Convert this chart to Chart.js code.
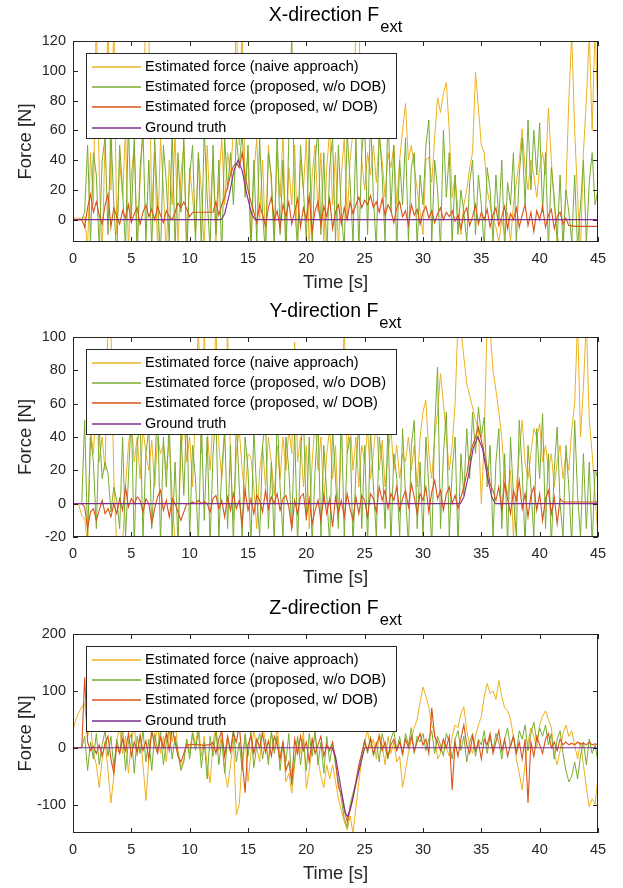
<!DOCTYPE html>
<html>
<head>
<meta charset="utf-8">
<title>External force estimation</title>
<script src="https://cdn.jsdelivr.net/npm/chart.js@4.4.1/dist/chart.umd.min.js"></script>
<style>
  html, body { margin: 0; padding: 0; background: #fff; }
  .panel { position: absolute; left: 0; width: 623px; height: 296px; }
  .panel canvas { display: block; }
</style>
</head>
<body>
<div class="panel" style="top:0px"><canvas id="chart-x" width="623" height="296"></canvas></div>
<div class="panel" style="top:296px"><canvas id="chart-y" width="623" height="296"></canvas></div>
<div class="panel" style="top:592px"><canvas id="chart-z" width="623" height="296"></canvas></div>
<script>
// Samples of the estimated forces are read every 0.25 s from 0 to 45 s
var SAMPLE_STEP = 0.25;
var X_TICKS = [0, 5, 10, 15, 20, 25, 30, 35, 40, 45];
var SERIES_NAMES = [
  'Estimated force (naive approach)',
  'Estimated force (proposed, w/o DOB)',
  'Estimated force (proposed, w/ DOB)',
  'Ground truth'
];

// ---- X direction ----
var X_NAIVE = [
  1,1,1,1,2,-20,45,10,140,30,-25,55,135,20,140,-10,40,15,60,-20,
  30,50,-15,25,60,145,130,5,45,-20,55,20,-25,40,10,58,-15,30,50,-20,
  35,15,-10,45,20,-20,50,5,40,-15,25,55,10,45,30,60,140,50,135,20,
  45,-20,30,55,0,40,-15,50,25,-10,45,15,58,-20,35,10,50,-15,40,20,
  55,-20,30,50,5,45,-15,35,60,10,45,-20,30,55,0,40,60,130,140,40,
  20,45,30,50,25,55,40,15,45,35,50,10,40,60,78,40,50,35,20,5,
  -10,40,42,25,55,82,72,85,92,60,15,30,5,-10,10,20,35,45,99,75,
  50,45,20,10,0,-5,-15,0,-10,5,-15,10,25,40,61,35,20,40,30,15,
  35,45,30,75,40,10,-10,-20,-15,20,80,125,60,15,-20,45,80,125,60,130,
  70
];
var X_NO_DOB = [
  0,0,0,0,5,50,-15,45,30,-20,40,55,-10,60,10,-25,50,20,-20,65,
  0,55,-25,35,60,-15,40,-20,55,10,-25,50,25,-15,60,-20,45,5,55,-25,
  30,50,-15,45,-20,60,15,-20,50,-10,40,-25,55,20,45,10,55,35,60,15,
  50,-20,40,-15,55,5,-25,45,30,-20,60,-10,40,-25,55,125,10,-20,50,20,
  -15,55,-20,40,60,-10,45,-25,35,55,-15,50,5,-20,60,25,-15,55,-20,45,
  65,-10,70,15,-20,60,30,-15,75,5,50,-20,40,10,55,-15,35,45,-20,30,
  10,50,67,-15,40,20,-20,60,15,45,-15,30,-10,20,5,-15,25,40,-10,30,
  10,-20,35,20,-15,30,0,40,-20,25,10,45,-15,30,55,10,67,20,60,30,
  65,5,45,-20,35,15,-15,30,-20,20,5,-15,30,-20,10,40,-15,25,45,10,
  20
];
var X_DOB = [
  0,0,0,0,-5,8,17,5,12,3,-3,10,17,-5,8,2,-3,6,1,10,
  -2,4,8,-3,5,10,2,7,0,9,3,-2,6,2,0,5,11,8,12,7,
  2,5,5,5,5,5,5,5,5,12,3,10,15,22,30,36,38,35,45,30,
  20,12,5,-2,10,3,-4,8,15,0,6,-6,10,2,12,-3,5,14,-5,8,
  0,16,-8,6,12,-4,9,2,14,-6,5,10,-3,8,0,12,4,10,15,8,
  13,10,16,8,12,5,14,3,10,6,-2,8,12,2,6,-4,10,3,7,-3,
  5,9,1,6,-2,4,8,0,5,2,6,-1,3,-6,4,8,-4,2,10,-3,
  5,0,7,-5,3,8,-4,2,9,-6,4,0,8,-5,3,10,-4,5,-8,6,
  0,9,-5,3,7,-6,2,5,-3,1,-4,-4,-4.5,-4.5,-4.5,-4.5,-4.5,-4.5,-4.5,-4.5,
  -4.5
];
var X_TRUTH_T = [0, 12.7, 13.0, 13.4, 13.8, 14.15, 14.5, 14.9, 15.3, 15.6, 45];
var X_TRUTH = [0, 0, 4, 17, 33, 40, 33, 17, 4, 0, 0];

// ---- Y direction ----
var Y_NAIVE = [
  0,0,-1,-7,-9,-25,45,30,60,25,40,20,110,105,15,-25,-20,-25,10,35,
  50,25,40,15,45,30,20,38,10,40,30,35,20,38,5,-25,-20,30,50,25,
  40,10,60,110,30,105,45,20,50,110,35,15,40,105,25,-10,30,45,20,5,
  30,28,10,-15,20,35,10,40,25,5,35,15,40,20,45,30,97,25,40,10,
  35,-15,25,50,20,40,0,30,45,15,35,-10,40,110,30,50,20,40,10,35,
  25,45,15,30,50,20,38,10,30,45,20,35,15,30,25,40,20,35,10,40,
  55,62,30,15,40,55,78,60,40,20,35,60,110,105,88,72,65,58,50,45,
  0,40,110,105,80,68,55,40,15,5,20,-20,10,30,50,25,15,30,45,40,
  48,25,35,20,30,10,25,35,15,30,20,45,60,110,40,70,110,50,30,5,
  -20
];
var Y_NO_DOB = [
  0,0,0,0,50,-20,40,25,-15,45,15,25,18,-5,10,2,-15,40,-20,15,
  55,-25,35,50,-20,30,45,-15,20,60,-25,40,10,50,-20,25,-25,45,5,55,
  -20,35,15,-25,50,-10,40,-25,30,55,-20,20,45,-15,35,-25,50,10,-20,40,
  20,-25,45,5,-20,35,50,-15,25,-25,55,10,-20,40,20,-15,45,-25,30,55,
  -10,40,-25,20,50,-20,35,5,-25,45,15,-15,55,-20,30,40,-25,20,50,-15,
  35,-25,45,10,-20,40,25,-15,50,-25,30,15,-20,45,5,-25,35,50,-15,25,
  -20,40,10,-25,45,82,-15,30,55,-20,20,40,-25,30,5,45,15,55,30,58,
  40,52,10,35,-20,25,45,-15,30,-25,40,5,-20,50,20,-25,35,10,-20,45,
  15,54,-15,30,-25,20,46,0,-20,35,10,-25,50,5,-20,30,-15,25,-25,20,
  15
];
var Y_DOB = [
  0,0,0,0,-2,-15,-5,-3,-10,-4,2,-6,-3,-8,0,-6,3,-4,10,-2,
  3,0,4,2,-5,3,0,-12,-3,4,8,-4,2,-8,3,0,-5,-10,-5,0,
  0,1,0,2,0,1,0,-5,3,5,-3,2,-8,4,-4,6,-3,2,-12,8,
  -4,3,-6,5,2,-5,8,-3,4,0,6,-4,3,5,-2,-15,2,-6,4,6,
  -8,3,-12,-4,2,-10,5,-6,3,-14,4,-5,2,-8,6,-3,-10,4,-6,5,
  2,-8,6,3,-5,10,2,8,-3,6,2,10,-4,3,8,-2,12,4,-6,6,
  2,10,-5,7,14,3,8,-4,6,10,0,5,-3,4,10,18,28,35,40,46,
  38,30,22,12,8,2,10,-4,12,3,-6,8,2,14,-3,6,-8,5,10,-4,
  6,-10,3,8,-6,4,-12,3,1,1,1,1,1,1,1,1,1,1,1,1,
  1
];
var Y_TRUTH_T = [0, 33.2, 33.5, 33.9, 34.3, 34.7, 35.1, 35.5, 35.9, 36.2, 45];
var Y_TRUTH = [0, 0, 4, 17, 33, 40, 33, 17, 4, 0, 0];

// ---- Z direction ----
var Z_NAIVE = [
  31,50,62,72,78,20,40,-10,-30,-70,-20,10,-40,-97,-50,15,35,-10,20,-45,
  10,40,-15,25,-30,-93,-20,30,5,40,-10,20,-25,35,10,45,-5,-35,-20,15,
  -10,30,5,40,-15,20,-30,-62,10,35,-5,25,-40,-70,-30,15,-118,-100,-20,20,
  -60,-10,30,0,-25,40,10,-20,25,-5,35,-15,10,-60,-45,-80,-30,15,-10,30,
  -72,-40,0,25,-20,-50,-70,-30,-55,-30,-60,-90,-110,-130,-145,-120,-150,-105,-60,-20,
  10,30,0,15,-20,25,5,-30,20,-10,10,-25,-15,-70,-40,-10,15,35,50,80,
  107,90,72,40,25,-20,-10,10,0,-15,20,40,35,60,72,30,5,-10,20,40,
  55,90,113,95,100,85,118,90,70,65,50,20,-20,-45,-74,-30,10,35,20,0,
  40,55,65,50,35,-10,-30,-5,25,40,20,30,5,-20,10,-30,-70,-104,-90,-100,
  -50
];
var Z_NO_DOB = [
  0,0,0,0,20,-40,10,-20,25,-30,5,30,-15,20,-35,15,-10,35,-40,10,
  25,-45,20,-10,30,-25,15,-40,25,-5,30,-30,10,35,-20,20,-10,-40,-25,15,
  -20,25,-5,30,-35,10,-55,20,-15,30,-30,15,-45,20,-10,35,-25,10,-40,25,
  -15,30,-35,5,25,-20,15,-30,30,-10,20,-40,10,-25,25,-65,-20,20,-30,15,
  -40,25,-15,30,-30,10,-45,20,-25,5,-30,-60,-90,-125,-140,-100,-80,-60,-35,-10,
  15,-10,20,-15,10,-25,25,0,-20,15,30,-5,20,-15,25,5,35,-10,20,10,
  25,-5,15,30,-10,20,5,-15,25,10,-20,15,30,-5,20,-25,10,25,-15,15,
  5,30,-10,20,-5,25,10,-20,15,35,0,20,-10,30,15,40,-5,25,45,10,
  35,20,40,5,25,-20,15,30,-10,-40,-60,-50,-25,-55,-15,10,-30,15,-10,5,
  -25
];
var Z_DOB = [
  0,0,0,0,124,10,-5,2,-10,5,-15,8,20,-20,-45,5,-10,15,-5,25,
  -15,10,-8,20,-5,12,-20,30,5,-10,18,0,25,-5,35,10,-15,-25,-10,5,
  5,6,5,5,5,4,5,5,10,-10,15,30,-15,20,-5,25,10,40,-20,-79,
  5,20,-10,15,0,25,-8,12,-15,20,5,-20,10,-40,-25,-60,15,-10,20,-5,
  10,-25,15,-10,5,20,-15,5,-5,10,-20,-70,-80,-110,-130,-110,-90,-60,-30,-10,
  10,-5,15,-10,5,20,-5,10,-15,5,15,-5,10,-10,15,0,20,-5,10,25,
  5,15,-10,70,20,10,-5,15,0,20,-74,10,-15,15,40,5,-10,20,-5,10,
  -20,15,5,25,-10,10,30,-5,15,-15,5,20,-10,10,-20,15,-97,10,-15,20,
  5,-10,15,25,0,10,-5,15,5,10,5,8,5,10,6,8,5,10,5,7,
  5
];
var Z_TRUTH_T = [0, 22.2, 22.5, 23.0, 23.35, 23.55, 23.8, 24.4, 25.0, 45];
var Z_TRUTH = [0, 0, -15, -75, -115, -121, -105, -50, 0, 0];

var COLORS = ['#EDB120', '#77AC30', '#D95319', '#7E2F8E'];
var AXIS_COLOR = '#262626';
var FONT = "'Liberation Sans', Arial, Helvetica, sans-serif";

function sampled(values) {
  return values.map(function(v, i) { return { x: i * SAMPLE_STEP, y: v }; });
}

function paired(times, values) {
  return times.map(function(t, i) { return { x: t, y: values[i] }; });
}

// MATLAB-like frame: box, inward ticks, legend, title and axis labels
var matlabFrame = {
  id: 'matlabFrame',
  afterDatasetsDraw: function(chart) {
    var ctx = chart.ctx;
    var a = chart.chartArea;
    var xs = chart.scales.x, ys = chart.scales.y;
    var cfg = chart.options.plugins.matlabFrame;

    ctx.save();
    ctx.strokeStyle = AXIS_COLOR;
    ctx.lineWidth = 1;
    ctx.beginPath();
    xs.ticks.forEach(function(t) {
      var px = Math.round(xs.getPixelForValue(t.value)) + 0.5;
      ctx.moveTo(px, a.bottom); ctx.lineTo(px, a.bottom - 5);
      ctx.moveTo(px, a.top); ctx.lineTo(px, a.top + 5);
    });
    ys.ticks.forEach(function(t) {
      var py = Math.round(ys.getPixelForValue(t.value)) + 0.5;
      ctx.moveTo(a.left, py); ctx.lineTo(a.left + 5, py);
      ctx.moveTo(a.right, py); ctx.lineTo(a.right - 5, py);
    });
    ctx.stroke();
    ctx.strokeRect(a.left + 0.5, a.top + 0.5, a.right - a.left - 1, a.bottom - a.top - 1);

    // legend
    var lx = a.left + 13, ly = a.top + 12;
    ctx.fillStyle = '#fff';
    ctx.fillRect(lx, ly, 311, 86);
    ctx.strokeStyle = AXIS_COLOR;
    ctx.lineWidth = 1;
    ctx.strokeRect(lx + 0.5, ly + 0.5, 310, 85);
    ctx.font = '14.5px ' + FONT;
    ctx.textBaseline = 'middle';
    ctx.textAlign = 'left';
    SERIES_NAMES.forEach(function(name, k) {
      var ry = ly + 14 + k * 20.2;
      ctx.beginPath();
      ctx.strokeStyle = COLORS[k];
      ctx.lineWidth = 1.6;
      ctx.moveTo(lx + 6, Math.round(ry));
      ctx.lineTo(lx + 55, Math.round(ry));
      ctx.stroke();
      ctx.fillStyle = '#000';
      ctx.fillText(name, lx + 59, ry);
    });

    // title with subscript
    var cx = (a.left + a.right) / 2;
    ctx.font = '19.5px ' + FONT;
    var wMain = ctx.measureText(cfg.title).width;
    ctx.font = '16.5px ' + FONT;
    var wSub = ctx.measureText('ext').width;
    var x0 = cx - (wMain + wSub + 1) / 2;
    ctx.textBaseline = 'alphabetic';
    ctx.fillStyle = '#000';
    ctx.font = '19.5px ' + FONT;
    ctx.fillText(cfg.title, x0, a.top - 20.3);
    ctx.font = '16.5px ' + FONT;
    ctx.fillText('ext', x0 + wMain + 1, a.top - 9.5);

    // axis labels
    ctx.font = '18.5px ' + FONT;
    ctx.textAlign = 'center';
    ctx.textBaseline = 'middle';
    ctx.fillStyle = AXIS_COLOR;
    ctx.fillText('Time [s]', cx, a.bottom + 41);
    ctx.translate(25.5, (a.top + a.bottom) / 2);
    ctx.rotate(-Math.PI / 2);
    ctx.fillText('Force [N]', 0, 0);
    ctx.restore();
  }
};

function makePanel(spec) {
  var canvas = document.getElementById(spec.id);
  var series = [
    { data: paired(spec.truthT, spec.truth), color: COLORS[3], width: 1.1 },
    { data: sampled(spec.dob), color: COLORS[2], width: 1.1 },
    { data: sampled(spec.noDob), color: COLORS[1], width: 1 },
    { data: sampled(spec.naive), color: COLORS[0], width: 1 }
  ];
  return new Chart(canvas, {
    type: 'line',
    data: {
      datasets: series.map(function(s) {
        return {
          data: s.data,
          borderColor: s.color,
          borderWidth: s.width,
          pointRadius: 0,
          tension: 0,
          fill: false,
          clip: 0
        };
      })
    },
    options: {
      responsive: false,
      animation: false,
      events: [],
      layout: { padding: { top: spec.padTop, right: 25, bottom: 0, left: 0 } },
      plugins: {
        legend: { display: false },
        tooltip: { enabled: false },
        matlabFrame: { title: spec.title }
      },
      scales: {
        x: {
          type: 'linear',
          min: 0,
          max: 45,
          afterBuildTicks: function(scale) {
            scale.ticks = X_TICKS.map(function(v) { return { value: v }; });
          },
          afterFit: function(scale) { scale.height = spec.xHeight; },
          grid: { display: false, drawTicks: false },
          border: { display: false },
          ticks: {
            padding: 8,
            color: AXIS_COLOR,
            font: { family: FONT, size: 14.5 },
            maxRotation: 0,
            autoSkip: false
          }
        },
        y: {
          min: spec.yMin,
          max: spec.yMax,
          afterFit: function(scale) { scale.width = 73; },
          grid: { display: false, drawTicks: false },
          border: { display: false },
          ticks: {
            stepSize: spec.yStep,
            includeBounds: false,
            padding: 7,
            color: AXIS_COLOR,
            font: { family: FONT, size: 14.5 }
          }
        }
      }
    },
    plugins: [matlabFrame]
  });
}

makePanel({ id: 'chart-x', title: 'X-direction F', yMin: -15, yMax: 120, yStep: 20, padTop: 41, xHeight: 54,
  naive: X_NAIVE, noDob: X_NO_DOB, dob: X_DOB, truthT: X_TRUTH_T, truth: X_TRUTH });
makePanel({ id: 'chart-y', title: 'Y-direction F', yMin: -20, yMax: 100, yStep: 20, padTop: 41, xHeight: 55,
  naive: Y_NAIVE, noDob: Y_NO_DOB, dob: Y_DOB, truthT: Y_TRUTH_T, truth: Y_TRUTH });
makePanel({ id: 'chart-z', title: 'Z-direction F', yMin: -150, yMax: 200, yStep: 100, padTop: 42, xHeight: 55,
  naive: Z_NAIVE, noDob: Z_NO_DOB, dob: Z_DOB, truthT: Z_TRUTH_T, truth: Z_TRUTH });
</script>
</body>
</html>
